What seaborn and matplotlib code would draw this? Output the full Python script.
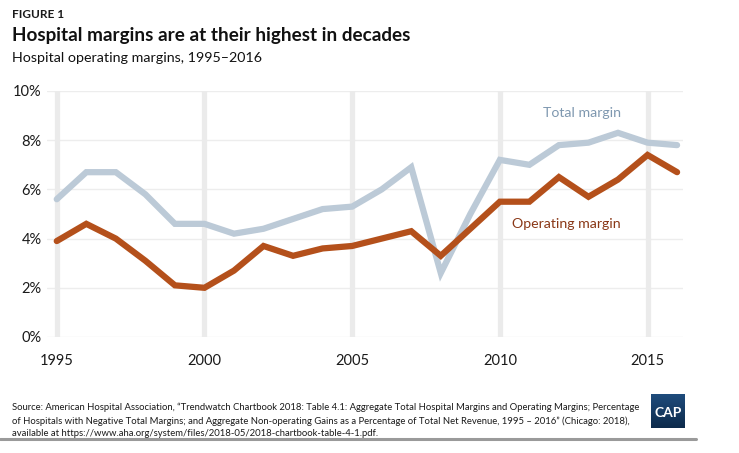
import matplotlib
matplotlib.use("Agg")
import matplotlib.pyplot as plt
import seaborn as sns
import pandas as pd
import numpy as np
from matplotlib.colors import LinearSegmentedColormap

years = list(range(1995, 2017))
total_margin = [5.6, 6.7, 6.7, 5.8, 4.6, 4.6, 4.2, 4.4, 4.8, 5.2, 5.3, 6.0, 6.9, 2.6, 5.0, 7.2, 7.0, 7.8, 7.9, 8.3, 7.9, 7.8]
operating_margin = [3.9, 4.6, 4.0, 3.1, 2.1, 2.0, 2.7, 3.7, 3.3, 3.6, 3.7, 4.0, 4.3, 3.3, 4.4, 5.5, 5.5, 6.5, 5.7, 6.4, 7.4, 6.7]
series_names = ["Total margin", "Operating margin"]
x_ticks = [1995, 2000, 2005, 2010, 2015]
y_ticks = [0, 2, 4, 6, 8, 10]
y_tick_labels = ["0%", "2%", "4%", "6%", "8%", "10%"]

df = pd.DataFrame({
    "year": years * 2,
    "value": total_margin + operating_margin,
    "series": [series_names[0]] * len(years) + [series_names[1]] * len(years),
})

sns.set_theme(style="white")
plt.rcParams['font.family'] = ['Lato', 'DejaVu Sans']

fig = plt.figure(figsize=(7.39, 4.53), dpi=100)
ax = fig.add_axes([47/739, 1-337/453, (683-47)/739, (337-91)/453])

palette = {"Total margin": "#bccad7", "Operating margin": "#b4501b"}
sns.lineplot(data=df, x="year", y="value", hue="series", palette=palette,
             linewidth=4.5, ax=ax, legend=False, zorder=3)
for line in ax.lines:
    line.set_solid_capstyle("round")
    line.set_solid_joinstyle("miter")

ax.set_xlim(1994.67, 2016.2)
ax.set_ylim(0, 10)
for yv in y_ticks:
    ax.axhline(yv, color="#ededed", lw=1.0, zorder=1)
for xv in x_ticks:
    ax.axvline(xv, color="#ebebeb", lw=3.8, zorder=1)

ax.set_xticks(x_ticks)
ax.set_yticks(y_ticks)
ax.set_yticklabels(y_tick_labels)
ax.tick_params(axis="both", length=0, labelsize=10.5, colors="#1a1a1a")
ax.tick_params(axis="x", pad=12)
ax.tick_params(axis="y", pad=4)
ax.set_xlabel("")
ax.set_ylabel("")
for s in ax.spines.values():
    s.set_visible(False)

ax.text(2014.1, 9.1, "Total margin", color="#7f98b0", fontsize=10.2, ha="right", va="center")
ax.text(2014.1, 4.6, "Operating margin", color="#8a3817", fontsize=10.2, ha="right", va="center")

fig.text(12/739, 1-14/453, "FIGURE 1", fontsize=8.5, fontweight="bold", color="#1a1a1a", va="center")
fig.text(12/739, 1-35/453, "Hospital margins are at their highest in decades", fontsize=13.6,
         fontweight="bold", color="#111111", va="center")
fig.text(12/739, 1-58/453, "Hospital operating margins, 1995\u20132016", fontsize=10.3, color="#111111", va="center")

footer_lines = [
    "Source: American Hospital Association, \u201cTrendwatch Chartbook 2018: Table 4.1: Aggregate Total Hospital Margins and Operating Margins; Percentage",
    "of Hospitals with Negative Total Margins; and Aggregate Non-operating Gains as a Percentage of Total Net Revenue, 1995 \u2013 2016\u201d (Chicago: 2018),",
    "available at https://www.aha.org/system/files/2018-05/2018-chartbook-table-4-1.pdf.",
]
fig.canvas.draw()
renderer = fig.canvas.get_renderer()
probe = fig.text(0, 0, footer_lines[0], fontsize=10)
w = probe.get_window_extent(renderer).width
probe.remove()
fs = 10 * (632 / w)
for i, (ln, yy) in enumerate(zip(footer_lines, [407, 421, 434])):
    fig.text(12/739, 1-yy/453, ln, fontsize=fs, color="#1a1a1a", va="center")

fig.add_artist(plt.Line2D([0, 696/739], [1-439/453, 1-439/453], color="#9a9a9a", lw=2.2))

lax = fig.add_axes([651/739, 1-428/453, 34/739, 34/453])
grad = np.linspace(0, 1, 50).reshape(-1, 1)
cmap = LinearSegmentedColormap.from_list("cap", ["#1f4c7c", "#0d2a4b"])
lax.imshow(grad, aspect="auto", cmap=cmap, extent=[0, 1, 0, 1], origin="upper")
lax.text(0.5, 0.45, "CAP", color="white", fontsize=10, fontweight="bold", ha="center", va="center")
lax.set_axis_off()

fig.savefig("out.png", dpi=100)
